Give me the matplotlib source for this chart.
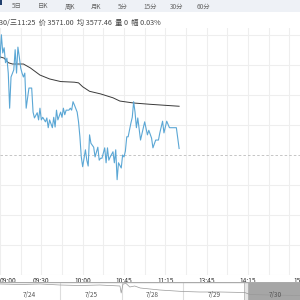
import matplotlib
matplotlib.use("Agg")
import matplotlib.pyplot as plt
from matplotlib.patches import Rectangle

plt.rcParams['font.family'] = ['Noto Sans CJK SC', 'DejaVu Sans']

# ---- data ----
prev_close = 3570.0
price_minutes = [0, 1, 2, 3, 4, 5, 6, 7, 8, 10, 11, 12, 13, 14, 15, 16, 17, 18, 19, 21, 22, 23, 24, 25,
                 27, 28, 29, 30, 31, 33, 34, 35, 36, 38, 39, 40, 41, 42, 44, 45, 46, 47, 48, 50, 51, 52,
                 53, 54, 56, 57, 58, 59, 60, 62, 63, 64, 65, 66, 68, 69, 71, 72, 73, 74, 76, 77, 78, 79,
                 80, 82, 83, 84, 85, 86, 88, 89, 90, 91, 92, 93, 95, 96, 97, 98, 99, 100, 102, 105, 107,
                 108, 110, 111, 113, 115, 116, 118, 119, 121, 123, 128, 130]
price_values = [3584.9, 3588.5, 3585.7, 3586.5, 3584.2, 3584.9, 3582.6, 3577.2, 3582.0, 3583.1, 3586.2,
                3582.6, 3586.6, 3585.1, 3583.4, 3582.6, 3582.0, 3582.6, 3577.2, 3580.3, 3580.3, 3580.3,
                3576.6, 3575.7, 3576.5, 3575.4, 3577.2, 3575.4, 3575.8, 3575.1, 3575.7, 3574.2, 3575.4,
                3574.2, 3575.8, 3574.3, 3576.9, 3575.4, 3576.6, 3575.8, 3577.2, 3576.2, 3576.9, 3576.9,
                3577.2, 3576.9, 3578.2, 3577.7, 3576.6, 3575.1, 3572.8, 3569.7, 3568.2, 3570.8, 3569.2,
                3568.3, 3573.1, 3571.8, 3571.2, 3569.7, 3571.2, 3569.2, 3569.5, 3569.5, 3571.1, 3568.8,
                3571.1, 3569.2, 3569.7, 3570.5, 3568.8, 3570.8, 3566.2, 3568.8, 3568.0, 3570.0, 3569.7,
                3570.6, 3572.8, 3572.8, 3574.9, 3575.8, 3578.2, 3576.6, 3574.2, 3575.7, 3572.3, 3575.1,
                3573.1, 3573.8, 3572.6, 3571.1, 3572.3, 3572.3, 3573.4, 3575.2, 3573.4, 3575.2, 3574.2,
                3574.2, 3571.0]
avg_minutes = [0, 3, 6, 9, 17, 22, 29, 36, 44, 54, 57, 60, 65, 73, 82, 87, 97, 109, 130]
avg_values = [3585.1, 3584.9, 3584.2, 3584.0, 3584.0, 3583.4, 3582.3, 3581.7, 3581.3, 3581.2, 3581.1,
              3580.5, 3579.8, 3579.4, 3578.8, 3578.3, 3578.0, 3577.8, 3577.5]

tick_minutes = [0, 30, 60, 90, 120, 150, 180, 225]
tick_labels = ["09:00", "09:30", "10:00", "10:45", "11:15", "13:45", "14:15", "15:00"]

tab_labels = ["5日", "日K", "周K", "月K", "5分", "15分", "30分", "60分"]
info_text = "30/三11:25  价 3571.00  均 3577.46  量 0  幅 0.03%"

nav_days = [0.02, 0.34, 0.67, 0.99, 1.32, 1.64, 1.97, 1.99, 2.02, 2.07, 2.13, 2.21, 2.30, 2.46, 2.62,
            2.87, 3.0, 3.27, 3.60, 4.0, 4.09, 4.41, 4.9]
nav_values = [3594, 3592, 3594, 3590, 3588, 3590, 3586, 3558, 3594, 3596, 3582, 3586, 3578, 3574, 3570,
              3566, 3564, 3562, 3562, 3560, 3552, 3550, 3548]
nav_labels = ["7/24", "7/25", "7/28", "7/29", "7/30"]

# ---- figure ----
W = H = 300.0
fig = plt.figure(figsize=(3, 3), dpi=100)
fig.patch.set_facecolor("white")

# tab bar
fig.patches.append(Rectangle((0, 1 - 12 / H), 1, 12 / H, transform=fig.transFigure,
                             facecolor="#eef1f6", edgecolor="none", zorder=0))
fig.patches.append(Rectangle((0, 1 - 5 / H), 2 / W, 5 / H, transform=fig.transFigure,
                             facecolor="#22406e", edgecolor="none", zorder=1))
tab_x = [17, 43.5, 70, 96.5, 123, 150, 177, 203.5]
for x, t in zip(tab_x, tab_labels):
    fig.text(x / W, 1 - 6.5 / H, t, ha="center", va="center", fontsize=4.6, color="#666666")

# main axes: pixel y from 28 (top) to 275 (bottom), x from 0 to 310
px_per_min = 1.377
px_per_pt = 6.5
ax = fig.add_axes([0, 25 / H, 310 / W, 247 / H])
ax.set_xlim(0, 225)
ax.set_ylim(prev_close - 120 / px_per_pt, prev_close + 127 / px_per_pt)
for s in ax.spines.values():
    s.set_visible(False)
ax.set_facecolor("white")

step = 30 / px_per_pt
for k in [-4, -3, -2, -1, 1, 2, 3, 4]:
    ax.axhline(prev_close + k * step, color="#eeeeee", lw=0.8, zorder=0)
for m in range(0, 226, 15):
    ax.axvline(m, color="#eeeeee", lw=0.8, zorder=0)
ax.axhline(prev_close, color="#bbbbbb", lw=0.6, ls=(0, (3, 2.5)), zorder=1)

ax.plot(avg_minutes, avg_values, color="#3a3a3a", lw=0.7, zorder=3)
ax.plot(price_minutes, price_values, color="#5ba7d5", lw=0.8, zorder=4)

ax.set_yticks([])
ax.set_xticks(tick_minutes)
ax.set_xticklabels(tick_labels, fontsize=4.8, color="#333333")
ax.tick_params(axis="x", length=0, pad=1.2)
lbls = ax.get_xticklabels()
lbls[0].set_ha("left")
lbls[-1].set_ha("right")

# info row (white background)
fig.patches.append(Rectangle((0, 1 - 28 / H), 1, 15 / H, transform=fig.transFigure,
                             facecolor="white", edgecolor="none", zorder=5))
fig.text(-1 / W, 1 - 22.5 / H, info_text, ha="left", va="center", fontsize=5.2,
         color="#444444", zorder=6)

# navigator
nav = fig.add_axes([-1 / W, 0, 307 / W, 18 / H])
nav.set_xlim(0, 5)
nav.set_ylim(3530, 3602)
for s in nav.spines.values():
    s.set_visible(False)
nav.axhline(3602, color="#aaaaaa", lw=1.0, zorder=5)
for d in [1, 2, 3]:
    nav.axvline(d, color="#dddddd", lw=0.8, zorder=0)
nav.add_patch(Rectangle((4.06, 3530), 0.94, 72, facecolor="#a6a6a6", edgecolor="none", zorder=1))
nav.add_patch(Rectangle((3.99, 3530), 0.06, 72, facecolor="#e6e6e6", edgecolor="#aaaaaa",
                        lw=0.5, zorder=2))
nav.plot(nav_days, nav_values, color="#999999", lw=0.5, zorder=3)
for i, t in enumerate(nav_labels):
    nav.text(i + 0.5, 3548, t, ha="center", va="center", fontsize=4.6, color="#555555", zorder=4)
nav.set_xticks([])
nav.set_yticks([])

fig.savefig("out.png", dpi=100)
